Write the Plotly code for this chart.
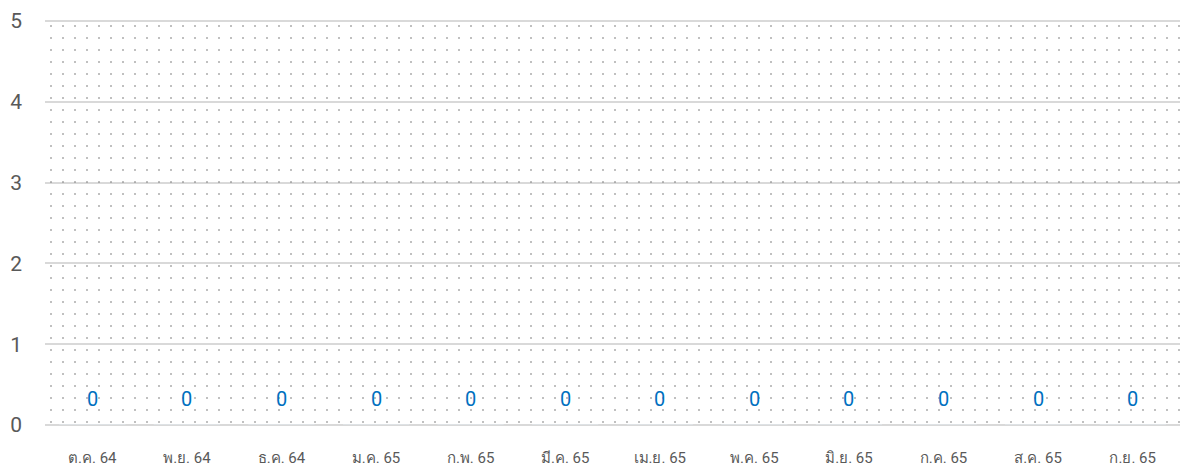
import plotly.graph_objects as go

categories = ["ต.ค. 64", "พ.ย. 64", "ธ.ค. 64", "ม.ค. 65", "ก.พ. 65", "มี.ค. 65",
              "เม.ย. 65", "พ.ค. 65", "มิ.ย. 65", "ก.ค. 65", "ส.ค. 65", "ก.ย. 65"]
values = [0, 0, 0, 0, 0, 0, 0, 0, 0, 0, 0, 0]
y_max = 5
y_ticks = [0, 1, 2, 3, 4, 5]

fig = go.Figure()

# dotted plot-area background (pattern fill)
fig.add_trace(go.Bar(
    x=[0.5], y=[y_max], width=[1], xaxis="x2",
    marker=dict(color="rgba(0,0,0,0)", line=dict(width=0),
                pattern=dict(shape=".", size=12, solidity=0.015,
                             fgcolor="#6f6f6f", bgcolor="rgba(0,0,0,0)", fgopacity=1)),
    hoverinfo="skip", showlegend=False,
))

fig.add_trace(go.Bar(
    x=categories, y=values, marker_color="#0070C0", showlegend=False,
))

for c, v in zip(categories, values):
    fig.add_annotation(x=c, y=v, text=str(v), showarrow=False, yshift=26,
                       font=dict(color="#0070C0", size=20, family="Roboto"))

fig.update_layout(
    width=1181, height=468,
    margin=dict(l=45, r=1, t=20, b=43),
    paper_bgcolor="white", plot_bgcolor="white",
    font=dict(family="Roboto, 'Noto Sans', sans-serif", color="#595959"),
    bargap=0.3,
    xaxis=dict(type="category", showgrid=False, showline=False, ticks="",
               tickfont=dict(size=15, color="#595959"), ticklabelstandoff=22,
               zeroline=False),
    xaxis2=dict(overlaying="x", range=[0, 1], visible=False, showgrid=False),
    yaxis=dict(range=[0, y_max * 1.0025], tickvals=y_ticks, showgrid=True,
               gridcolor="#D9D9D9", gridwidth=1.5, zeroline=True,
               zerolinecolor="#D9D9D9", zerolinewidth=1.5, ticks="",
               showline=False, mirror=False,
               tickfont=dict(size=21, color="#595959"), ticklabelstandoff=22),
)

fig.write_html("out.html", config={"displayModeBar": False},
               post_script="document.body.style.margin='0';")
